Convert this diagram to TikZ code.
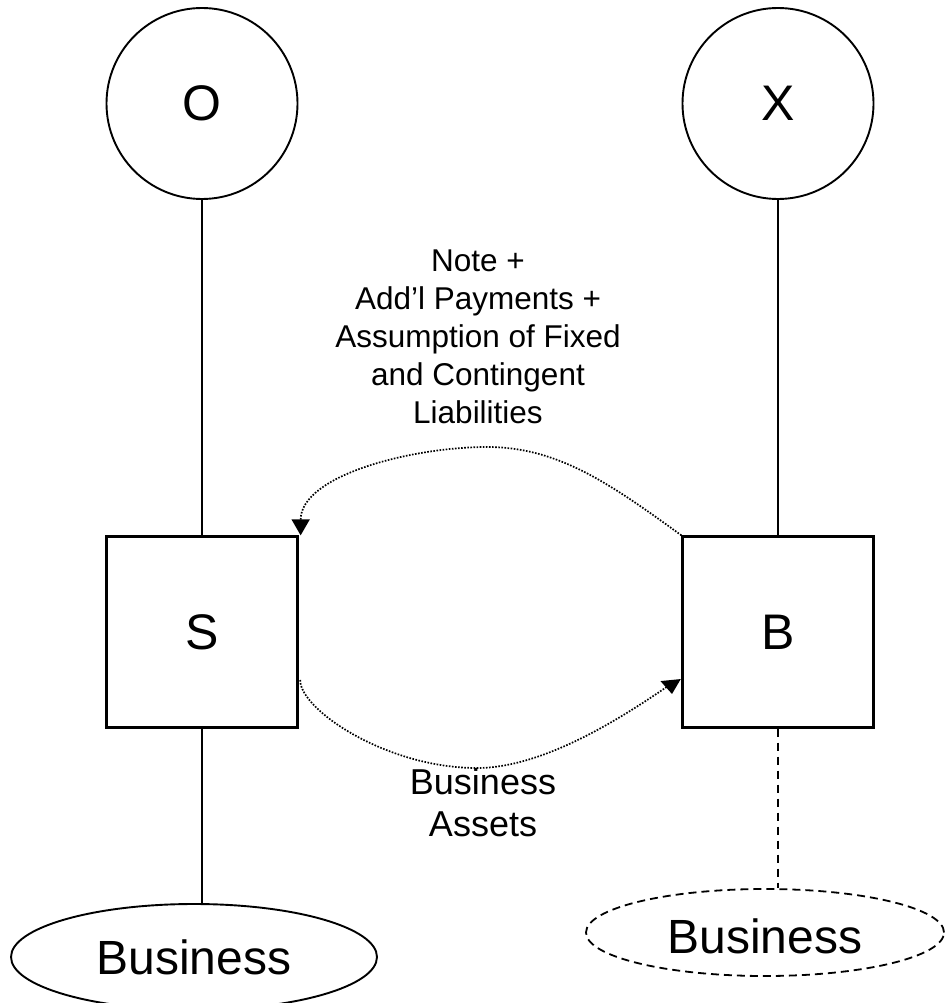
\documentclass[tikz,border=0pt]{standalone}
\usepackage{fontspec}
\setmainfont{Liberation Sans}
\usetikzlibrary{shapes.geometric,arrows.meta}
\begin{document}
\begin{tikzpicture}[x=1pt,y=-1pt,
  party/.style={circle,draw,line width=1.9pt,minimum size=191pt,inner sep=0pt,
    font=\fontsize{50}{60}\selectfont},
  entity/.style={rectangle,draw,line width=2.8pt,minimum size=190.5pt,inner sep=0pt,
    font=\fontsize{50}{60}\selectfont},
  biz/.style={ellipse,draw,line width=1.9pt,inner sep=0pt,
    font=\fontsize{48}{58}\selectfont},
  own/.style={line width=2pt},
  future/.style={line width=2.3pt,dash pattern=on 8pt off 6pt},
  flow/.style={line width=1.7pt,dash pattern=on 1.6pt off 1.5pt},
  caption/.style={align=center,inner sep=0pt}
]
\fill[white] (0,0) rectangle (946,1003);
\useasboundingbox (0,0) rectangle (946,1003);

% owners and entities
\node[party] (O) at (202,103.5) {O};
\node[party] (X) at (778,103.5) {X};
\node[entity] (S) at (202,632) {S};
\node[entity] (B) at (778,632) {B};

% the business before and after the sale
\node[biz,minimum width=366pt,minimum height=106pt] (bizS) at (194,957) {Business};
\node[biz,line width=1.8pt,dash pattern=on 8pt off 5pt,
      minimum width=358pt,minimum height=87pt,text height=43pt] (bizB) at (765,932.5) {Business};

% ownership lines
\draw[own] (O) -- (S);
\draw[own] (X) -- (B);
\draw[own] (S.south) -- (S.south |- bizS.north);
\draw[future] (B.south) -- (B.south |- bizB.north);

% transfer labels
\node[caption,font=\fontsize{31.5}{38}\selectfont] (terms) at (478,337)
  {Note +\\Add’l Payments +\\Assumption of Fixed\\and Contingent\\Liabilities};
\node[caption,font=\fontsize{36}{42}\selectfont] (assets) at (483,803)
  {Business\\Assets};

% transfer arrows
\coordinate (topbend) at (487,447);
\coordinate (lowbend) at (477,768);
\coordinate (assetstip) at (672,694);

\draw[flow,-{Triangle[width=18pt,length=16pt]}]
  (B.north west) .. controls +(-73,-53) and +(70,0) .. (topbend)
  .. controls +(-75,0) and +(0,-60) .. ([xshift=2pt]S.north east);

\draw[flow,-{Triangle[width=20pt,length=14pt]}]
  ([xshift=1.5pt,yshift=-48pt]S.east) .. controls +(0,30) and +(-90,0) .. (lowbend)
  .. controls +(70,0) and +(-41,28) .. ([xshift=-1pt,yshift=10pt]assetstip)
  -- (assetstip);
\end{tikzpicture}
\end{document}
